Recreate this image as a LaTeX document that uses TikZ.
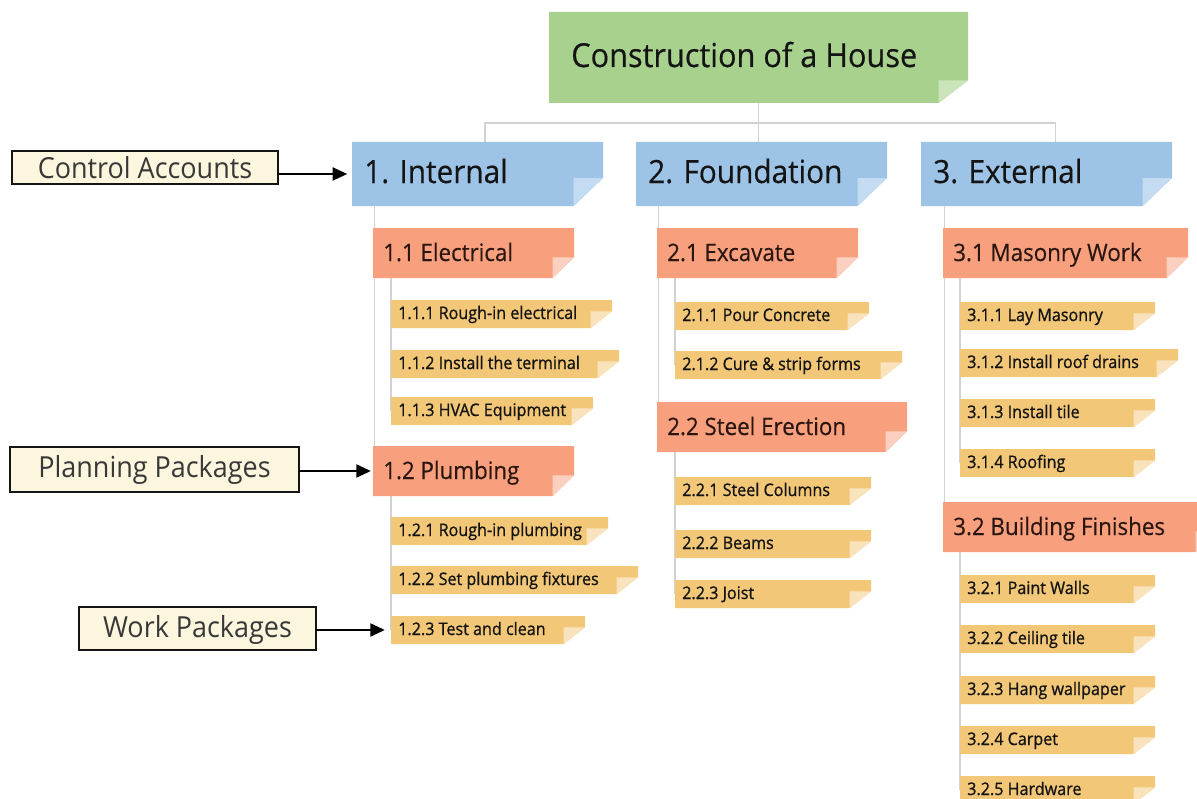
\documentclass[tikz,border=0pt]{standalone}
\usepackage{fontspec}
\setmainfont{Open Sans}[FakeStretch=0.93]
\newfontfamily\heavyfont{Open Sans}[FakeStretch=0.93, FakeBold=0.9]
\newfontfamily\firmfont{Open Sans}[FakeStretch=0.93, FakeBold=0.35]
\usetikzlibrary{arrows.meta}

\definecolor{rootfill}{HTML}{A9D18E}
\definecolor{rootfold}{HTML}{CBE4BA}
\definecolor{acctfill}{HTML}{9DC3E6}
\definecolor{acctfold}{HTML}{C4DCF1}
\definecolor{planfill}{HTML}{F8A07D}
\definecolor{planfold}{HTML}{FBD0C0}
\definecolor{workfill}{HTML}{F3C778}
\definecolor{workfold}{HTML}{F9E3BD}
\definecolor{notefill}{HTML}{FDF6DE}
\definecolor{linegray}{HTML}{D2D2D2}
\definecolor{inkdark}{HTML}{141414}
\definecolor{inkbrown}{HTML}{2A1610}
\definecolor{inknote}{HTML}{383838}

\pgfdeclarelayer{back}
\pgfsetlayers{back,main}

\tikzset{
  % sticky-note box: fill, fold colour, fold width, fold height
  folded/.style n args={4}{inner sep=0pt, outer sep=0pt, anchor=north west,
    path picture={
      \fill[#1] (path picture bounding box.north west)
        -- (path picture bounding box.north east)
        -- ([yshift=#4]path picture bounding box.south east)
        -- ([xshift=-#3]path picture bounding box.south east)
        -- (path picture bounding box.south west) -- cycle;
      \fill[#2] ([xshift=-#3,yshift=#4]path picture bounding box.south east)
        -- ([yshift=#4]path picture bounding box.south east)
        -- ([xshift=-#3]path picture bounding box.south east) -- cycle;
    }},
  rootbox/.style={folded={rootfill}{rootfold}{22pt}{17pt}},
  acctbox/.style={folded={acctfill}{acctfold}{22pt}{21pt}},
  planbox/.style={folded={planfill}{planfold}{16pt}{15.5pt}},
  workbox/.style={folded={workfill}{workfold}{16pt}{12.5pt}},
  roottext/.style={anchor=base west, inner sep=0pt, shift={(22,55)},
    font=\firmfont\fontsize{24.75pt}{28pt}\selectfont, text=inkdark},
  accttext/.style={anchor=base west, inner sep=0pt, shift={(12,41)},
    font=\firmfont\fontsize{24pt}{28pt}\selectfont, text=inkdark},
  plantext/.style={anchor=base west, inner sep=0pt, shift={(10,33)},
    font=\firmfont\fontsize{18pt}{22pt}\selectfont, text=inkbrown},
  worktext/.style={anchor=base west, inner sep=0pt, shift={(7,19)},
    font=\heavyfont\fontsize{13pt}{16pt}\selectfont, text=inkdark},
  notebox/.style={draw=inkdark, line width=1.2pt, fill=notefill, inner sep=0pt,
    outer sep=0pt, anchor=north west},
  notetext/.style={anchor=base, inner sep=0pt,
    font=\fontsize{21.75pt}{26pt}\selectfont, text=inknote},
  conn/.style={draw=linegray, line width=0.8pt},
  pointer/.style={draw=black, line width=2.2pt,
    -{Triangle[length=11pt,width=9.5pt]}},
}

% #1 box style, #2 name, #3 left, #4 top, #5 right, #6 bottom, #7 text style, #8 text
\newcommand\wbsitem[8]{%
  \node[#1, minimum width={(#5-#3)*0.75pt}, minimum height={(#6-#4)*0.75pt}]
    (#2) at (#3,#4) {};
  \node[#7] (#2-txt) at (#2.north west) {#8};
}

\begin{document}
\begin{tikzpicture}[x=0.75pt, y=-0.75pt]
\useasboundingbox (0,0) rectangle (1197,799);
\clip (0,0) rectangle (1197,799);

% project
\wbsitem{rootbox}{root}{549}{12}{968}{103}{roottext}{Construction of a House}

% control accounts
\wbsitem{acctbox}{c1}{352}{142}{603}{206}{accttext}{1. Internal}
\wbsitem{acctbox}{c2}{636}{142}{887}{206}{accttext}{2. Foundation}
\wbsitem{acctbox}{c3}{921}{142}{1172}{206}{accttext}{3. External}

% planning packages
\wbsitem{planbox}{e11}{373}{228}{574}{278}{plantext}{1.1 Electrical}
\wbsitem{planbox}{e12}{373}{446}{574}{496}{plantext}{1.2 Plumbing}
\wbsitem{planbox}{f21}{657}{228}{858}{278}{plantext}{2.1 Excavate}
\wbsitem{planbox}{f22}{657}{402}{907}{452}{plantext}{2.2 Steel Erection}
\wbsitem{planbox}{x31}{943}{228}{1188}{278}{plantext}{3.1 Masonry Work}
\wbsitem{planbox}{x32}{943}{502}{1217}{552}{plantext}{3.2 Building Finishes}

% work packages
\wbsitem{workbox}{w111}{391}{300}{612}{328}{worktext}{1.1.1 Rough-in electrical}
\wbsitem{workbox}{w112}{391}{350}{619}{378}{worktext}{1.1.2 Install the terminal}
\wbsitem{workbox}{w113}{391}{397}{593}{425}{worktext}{1.1.3 HVAC Equipment}
\wbsitem{workbox}{w121}{391}{517}{608}{545}{worktext}{1.2.1 Rough-in plumbing}
\wbsitem{workbox}{w122}{391}{566}{638}{594}{worktext}{1.2.2 Set plumbing fixtures}
\wbsitem{workbox}{w123}{391}{616}{585}{644}{worktext}{1.2.3 Test and clean}

\wbsitem{workbox}{w211}{675}{302}{869}{330}{worktext}{2.1.1 Pour Concrete}
\wbsitem{workbox}{w212}{675}{351}{902}{379}{worktext}{2.1.2 Cure \& strip forms}
\wbsitem{workbox}{w221}{675}{477}{871}{505}{worktext}{2.2.1 Steel Columns}
\wbsitem{workbox}{w222}{675}{530}{871}{558}{worktext}{2.2.2 Beams}
\wbsitem{workbox}{w223}{675}{580}{871}{608}{worktext}{2.2.3 Joist}

\wbsitem{workbox}{w311}{960}{302}{1155}{330}{worktext}{3.1.1 Lay Masonry}
\wbsitem{workbox}{w312}{960}{349}{1178}{377}{worktext}{3.1.2 Install roof drains}
\wbsitem{workbox}{w313}{960}{399}{1155}{427}{worktext}{3.1.3 Install tile}
\wbsitem{workbox}{w314}{960}{449}{1155}{477}{worktext}{3.1.4 Roofing}
\wbsitem{workbox}{w321}{960}{575}{1155}{603}{worktext}{3.2.1 Paint Walls}
\wbsitem{workbox}{w322}{960}{625}{1155}{653}{worktext}{3.2.2 Ceiling tile}
\wbsitem{workbox}{w323}{960}{676}{1155}{704}{worktext}{3.2.3 Hang wallpaper}
\wbsitem{workbox}{w324}{960}{726}{1155}{754}{worktext}{3.2.4 Carpet}
\wbsitem{workbox}{w325}{960}{776}{1155}{804}{worktext}{3.2.5 Hardware}

% legend notes
\node[notebox, minimum width={266*0.75pt}, minimum height={33*0.75pt}] (ca) at (12,151) {};
\node[notetext] (ca-txt) at ([yshift={-28*0.75pt}]ca.north) {Control Accounts};
\node[notebox, minimum width={289*0.75pt}, minimum height={45*0.75pt}] (pp) at (10,447) {};
\node[notetext] (pp-txt) at ([yshift={-30*0.75pt}]pp.north) {Planning Packages};
\node[notebox, minimum width={237*0.75pt}, minimum height={43*0.75pt}] (wp) at (79,607) {};
\node[notetext] (wp-txt) at ([yshift={-30*0.75pt}]wp.north) {Work Packages};

% pointers from the notes
\draw[pointer, shorten >=3.5pt] (c1.west -| ca.east) -- (c1.west);
\draw[pointer, shorten >=1.5pt] (e12.west -| pp.east) -- (e12.west);
\draw[pointer, shorten >=4.5pt] (w123.west -| wp.east) -- (w123.west);

% hierarchy lines
\begin{pgfonlayer}{back}
  \draw[conn] (root.south) -- (root.south |- c2.north);
  \draw[conn] ([xshift=5.6pt]c1.north) -- ++(0,-19) -| ([xshift=6.4pt]c3.north);
  \draw[conn] ([xshift=1.2pt]e11.west |- c1.south) -- ([xshift=1.2pt]e12.west);
  \draw[conn] ([xshift=1.2pt]f21.west |- c2.south) -- ([xshift=1.2pt]f22.west);
  \draw[conn] ([xshift=1.2pt]x31.west |- c3.south) -- ([xshift=1.2pt]x32.west);
  \draw[conn] (w111.west |- e11.south) -- (w113.west);
  \draw[conn] (w121.west |- e12.south) -- (w123.west);
  \draw[conn] (w211.west |- f21.south) -- (w212.west);
  \draw[conn] (w221.west |- f22.south) -- (w223.west);
  \draw[conn] (w311.west |- x31.south) -- (w314.west);
  \draw[conn] (w321.west |- x32.south) -- (w325.west);
\end{pgfonlayer}
\end{tikzpicture}
\end{document}
